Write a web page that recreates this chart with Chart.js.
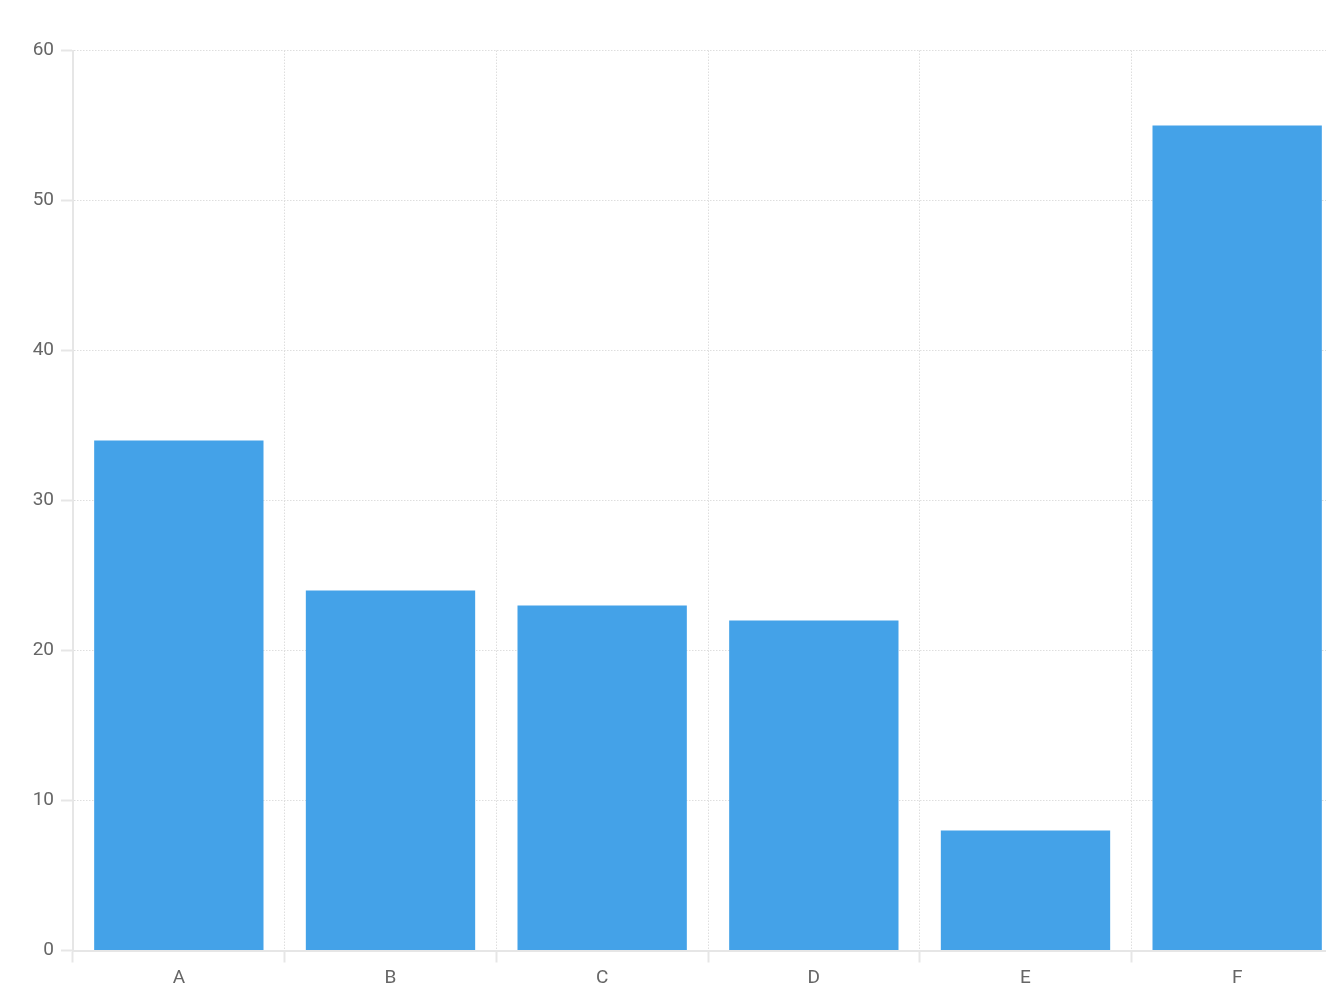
<!DOCTYPE html>
<html>
<head>
<meta charset="utf-8">
<script src="https://cdn.jsdelivr.net/npm/chart.js@4/dist/chart.umd.min.js"></script>
<style>
    html, body { margin: 0; padding: 0; background: #fff; overflow: hidden; }
    #wrap { width: 1343px; height: 1000px; }
</style>
</head>
<body>
<div id="wrap"><canvas id="bar-chart" width="1343" height="1000"></canvas></div>
<script>
// Chart data
const categories = ['A', 'B', 'C', 'D', 'E', 'F'];
const values = [34, 24, 23, 22, 8, 55];
const yTicks = [0, 10, 20, 30, 40, 50, 60];

const gridColor = '#dedede';
const axisColor = '#e6e6e6';
const labelFont = { family: 'Roboto', size: 19 };

const ctx = document.getElementById('bar-chart');

new Chart(ctx, {
    type: 'bar',
    data: {
        labels: categories,
        datasets: [{
            data: values,
            backgroundColor: '#44a2e8',
            borderWidth: 0,
            barPercentage: 1,
            categoryPercentage: 0.8
        }]
    },
    options: {
        responsive: false,
        animation: false,
        layout: { padding: { top: 50.5, left: 0, right: 0, bottom: 0 } },
        plugins: {
            legend: { display: false },
            tooltip: { enabled: false }
        },
        scales: {
            x: {
                grid: {
                    color: gridColor,
                    tickColor: axisColor,
                    tickWidth: 2,
                    tickLength: 12
                },
                border: { color: axisColor, width: 2, dash: [1.5, 1.5] },
                ticks: { color: '#666', font: labelFont, padding: 4 },
                afterFit: (scale) => { scale.height = 49.5; }
            },
            y: {
                min: yTicks[0],
                max: yTicks[yTicks.length - 1],
                grid: {
                    color: gridColor,
                    tickColor: axisColor,
                    tickWidth: 2,
                    tickLength: 12
                },
                border: { color: axisColor, width: 2, dash: [1.5, 1.5] },
                ticks: {
                    stepSize: yTicks[1] - yTicks[0],
                    color: '#666',
                    font: labelFont,
                    padding: 7
                },
                afterFit: (scale) => { scale.width = 73; }
            }
        }
    }
});
</script>
</body>
</html>
